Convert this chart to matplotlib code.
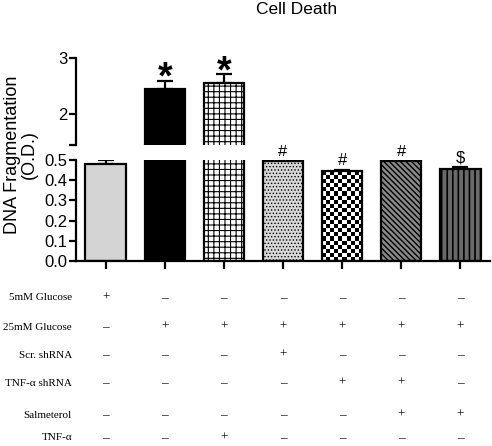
import numpy as np
import matplotlib.pyplot as plt
from matplotlib.transforms import blended_transform_factory

# data
values = [0.48, 2.46, 2.56, 0.497, 0.445, 0.497, 0.455]
errors = [0.02, 0.14, 0.16, 0.0, 0.005, 0.0, 0.01]
marks = ['', '*', '*', '#', '#', '#', '$']
faces = ['#d4d4d4', 'black', 'white', '#d8d8d8', 'white', '#8a8a8a', '#6a6a6a']
hatches = [None, None, '+++', '.....', None, '\\\\\\\\\\\\', '|||']
hatch_lw = [1, 1, 0.8, 0.6, 1, 1.0, 1.2]
checker_bar = 4  # drawn with a checkerboard fill

row_labels = ['5mM Glucose', '25mM Glucose', 'Scr. shRNA', 'TNF-\u03b1 shRNA',
              'Salmeterol', 'TNF-\u03b1']
signs = [
    ['+', '\u2013', '\u2013', '\u2013', '\u2013', '\u2013', '\u2013'],
    ['\u2013', '+', '+', '+', '+', '+', '+'],
    ['\u2013', '\u2013', '\u2013', '+', '\u2013', '\u2013', '\u2013'],
    ['\u2013', '\u2013', '\u2013', '\u2013', '+', '+', '\u2013'],
    ['\u2013', '\u2013', '\u2013', '\u2013', '\u2013', '+', '+'],
    ['\u2013', '\u2013', '+', '\u2013', '\u2013', '\u2013', '\u2013'],
]

plt.rcParams['font.family'] = ['Liberation Sans', 'DejaVu Sans']

W, H = 492, 446
fig = plt.figure(figsize=(W / 100, H / 100), dpi=100)
left, right = 76 / W, 490 / W
ax_lo = fig.add_axes([left, (H - 261) / H, right - left, 101 / H])
ax_hi = fig.add_axes([left, (H - 145) / H, right - left, 87 / H])

x = np.arange(len(values))
width = 0.68
for ax in (ax_lo, ax_hi):
    bars = ax.bar(x, values, width=width, color=faces, edgecolor='black', linewidth=1.6, zorder=2)
    for b, h, lw in zip(bars, hatches, hatch_lw):
        if h:
            b.set_hatch(h)
            try:
                b.set_hatch_linewidth(lw)
            except AttributeError:
                pass
    ax.errorbar(x, values, yerr=[np.zeros(len(values)), errors], fmt='none',
                ecolor='black', elinewidth=1.6, capsize=6, capthick=1.6, zorder=1)
    ax.set_xlim(-0.5, 6.5)
    for s in ('top', 'right'):
        ax.spines[s].set_visible(False)
    ax.spines['left'].set_linewidth(1.6)
    ax.tick_params(axis='y', width=1.6, length=5, labelsize=12, pad=1)

# checkerboard fill for the fifth bar
cb = ax_lo.patches[checker_bar]
checker = np.indices((22, 10)).sum(axis=0) % 2
im = ax_lo.imshow(checker, cmap='gray', interpolation='nearest', aspect='auto', zorder=2.5,
                  extent=(checker_bar - width / 2, checker_bar + width / 2, 0, values[checker_bar]))
im.set_clip_path(cb)
cb.set_facecolor('none')
cb.set_zorder(3)

ax_lo.set_ylim(0, 0.5)
ax_lo.set_yticks(np.arange(0, 0.51, 0.1))
ax_lo.set_yticklabels(['0.0', '0.1', '0.2', '0.3', '0.4', '0.5'])
ax_lo.spines['bottom'].set_linewidth(1.6)
ax_lo.set_xticks(x)
ax_lo.set_xticklabels([])
ax_lo.tick_params(axis='x', width=1.6, length=6)

ax_hi.set_ylim(1.46, 3.0)
ax_hi.set_yticks([1.46, 2, 3])
ax_hi.set_yticklabels(['', '2', '3'])
ax_hi.spines['bottom'].set_visible(False)
ax_hi.set_xticks([])

# significance marks
for i, (v, e, m) in enumerate(zip(values, errors, marks)):
    if m == '*':
        ax_hi.text(i, v + e + 0.03, m, ha='center', va='center', fontsize=27, fontweight='bold')
    elif m:
        ax_lo.text(i, v + e + 0.01, m, ha='center', va='bottom', fontsize=12)

fig.text(297 / W, 1 - 10 / H, 'Cell Death', ha='center', va='center', fontsize=12.5)
fig.text(21 / W, 1 - 155 / H, 'DNA Fragmentation\n(O.D.)', ha='center', va='center',
         rotation=90, fontsize=13, linespacing=1.0)

# treatment table
row_y = [298, 327, 355, 383, 415, 438]
tr = blended_transform_factory(ax_lo.transData, fig.transFigure)
for lab, yy, row in zip(row_labels, row_y, signs):
    fig.text(72 / W, 1 - yy / H, lab, ha='right', va='center', fontsize=8,
             family='Liberation Serif')
    for i, s in enumerate(row):
        ax_lo.text(i, 1 - yy / H, s, transform=tr, ha='center', va='center',
                   fontsize=9.5, family='Liberation Serif', clip_on=False)

fig.savefig('out.png', dpi=100)
